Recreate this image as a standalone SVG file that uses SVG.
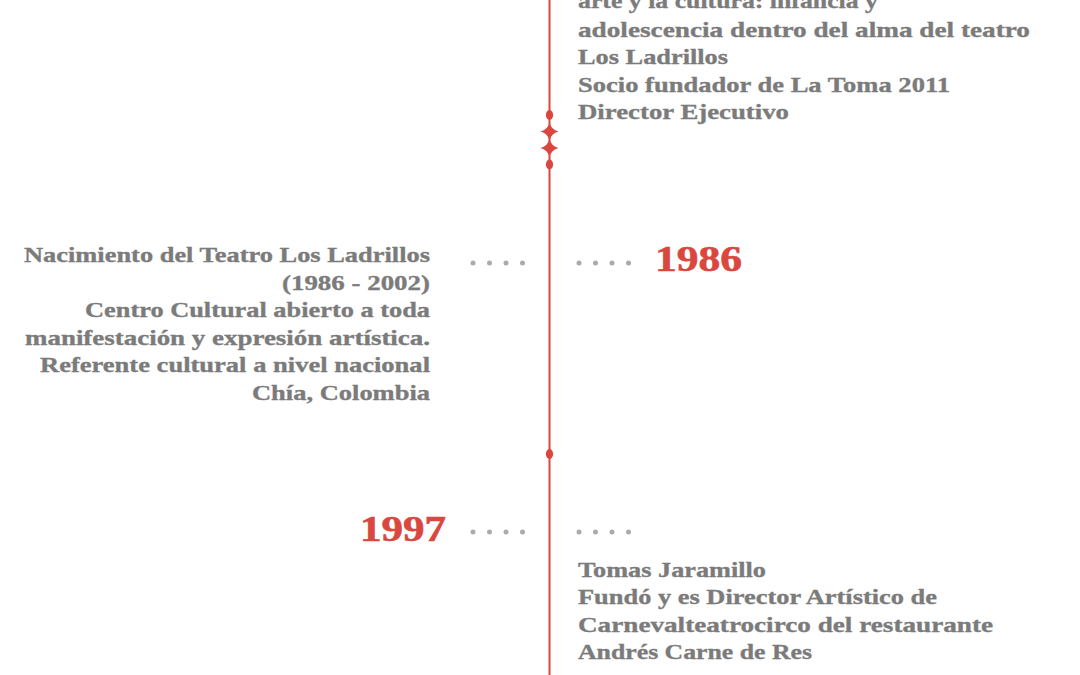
<svg xmlns="http://www.w3.org/2000/svg" width="1080" height="675" viewBox="0 0 1080 675">
<style>
.t{font-family:"Liberation Serif","DejaVu Serif",serif;font-weight:bold;font-size:22px;fill:#7b7b7b;stroke:#7b7b7b;stroke-width:0.35}
.y{font-family:"Liberation Serif","DejaVu Serif",serif;font-weight:bold;font-size:36px;fill:#d9473e;stroke:#d9473e;stroke-width:0.6}
.dot{fill:#ababab}
.ln{stroke:#d9473e;stroke-width:2;fill:none}
.red{fill:#d9473e}
</style>
<defs>
<path id="star" d="M0,-9 Q1.8,-1.8 9,0 Q1.8,1.8 0,9 Q-1.8,1.8 -9,0 Q-1.8,-1.8 0,-9Z"/>
<g id="dots"><circle cx="0" cy="0" r="2.5"/><circle cx="16.5" cy="0" r="2.5"/><circle cx="33" cy="0" r="2.5"/><circle cx="49.5" cy="0" r="2.5"/></g>
</defs>
<rect width="1080" height="675" fill="#ffffff"/>
<g id="connectors">
<line class="ln" x1="549.5" y1="0" x2="549.5" y2="675"/>
<use href="#dots" class="dot" x="473" y="263"/>
<use href="#dots" class="dot" x="579" y="263"/>
<use href="#dots" class="dot" x="473" y="532"/>
<use href="#dots" class="dot" x="579" y="532"/>
</g>
<g id="ornament" class="red">
<ellipse cx="549.5" cy="115" rx="3.6" ry="5"/>
<use href="#star" x="549.5" y="131.5"/>
<use href="#star" x="549.5" y="148"/>
<ellipse cx="549.5" cy="164.5" rx="3.6" ry="5"/>
<ellipse cx="549.5" cy="454" rx="3.6" ry="5"/>
</g>
<g id="node-top">
<text class="t" x="578" y="8" textLength="300" lengthAdjust="spacingAndGlyphs">arte y la cultura: infancia y</text>
<text class="t" x="578" y="37" textLength="452" lengthAdjust="spacingAndGlyphs">adolescencia dentro del alma del teatro</text>
<text class="t" x="578" y="64" textLength="150" lengthAdjust="spacingAndGlyphs">Los Ladrillos</text>
<text class="t" x="578" y="92" textLength="372" lengthAdjust="spacingAndGlyphs">Socio fundador de La Toma 2011</text>
<text class="t" x="578" y="119" textLength="211" lengthAdjust="spacingAndGlyphs">Director Ejecutivo</text>
</g>
<g id="node-1986">
<text class="y" x="655" y="271" textLength="87" lengthAdjust="spacingAndGlyphs">1986</text>
<text class="t" x="24" y="262" textLength="406" lengthAdjust="spacingAndGlyphs">Nacimiento del Teatro Los Ladrillos</text>
<text class="t" x="282" y="290" textLength="148" lengthAdjust="spacingAndGlyphs">(1986 -  2002)</text>
<text class="t" x="85" y="317" textLength="345" lengthAdjust="spacingAndGlyphs">Centro Cultural abierto a toda</text>
<text class="t" x="25" y="345" textLength="405" lengthAdjust="spacingAndGlyphs">manifestación y expresión artística.</text>
<text class="t" x="40" y="372" textLength="390" lengthAdjust="spacingAndGlyphs">Referente cultural a nivel nacional</text>
<text class="t" x="252" y="400" textLength="178" lengthAdjust="spacingAndGlyphs">Chía, Colombia</text>
</g>
<g id="node-1997">
<text class="y" x="360" y="541" textLength="86" lengthAdjust="spacingAndGlyphs">1997</text>
<text class="t" x="578" y="577" textLength="188" lengthAdjust="spacingAndGlyphs">Tomas Jaramillo</text>
<text class="t" x="578" y="604" textLength="359" lengthAdjust="spacingAndGlyphs">Fundó y es Director Artístico de</text>
<text class="t" x="578" y="632" textLength="415" lengthAdjust="spacingAndGlyphs">Carnevalteatrocirco del restaurante</text>
<text class="t" x="578" y="659" textLength="234" lengthAdjust="spacingAndGlyphs">Andrés Carne de Res</text>
</g>
</svg>
